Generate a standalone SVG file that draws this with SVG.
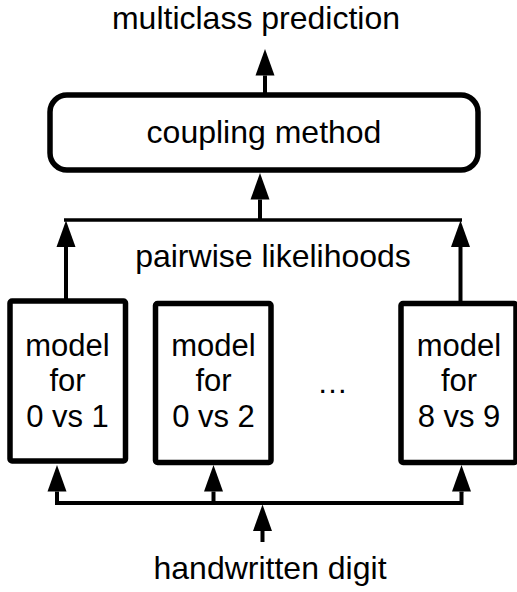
<svg xmlns="http://www.w3.org/2000/svg" width="517" height="592" viewBox="0 0 517 592">
  <style>
    text { font-family: "Liberation Sans", Arial, Helvetica, sans-serif; fill: #000; }
    .lbl { font-size: 32px; text-anchor: middle; }
    .mdl { font-size: 31px; text-anchor: middle; }
    .box { fill: #fff; stroke: #000; stroke-width: 5.5; }
    .wire { fill: none; stroke: #000; stroke-width: 4; }
    .bus { fill: none; stroke: #000; stroke-width: 3.5; }
  </style>
  <defs>
    <marker id="head" markerUnits="userSpaceOnUse" markerWidth="27" markerHeight="20" refX="0" refY="9.5" orient="auto" overflow="visible">
      <path d="M0,0 L26.5,9.5 L0,19 Z" fill="#000"/>
    </marker>
  </defs>

  <rect width="517" height="592" fill="#fff"/>

  <!-- labels -->
  <text class="lbl" x="256" y="29">multiclass prediction</text>
  <text class="lbl" x="273" y="267">pairwise likelihoods</text>
  <text class="lbl" x="270" y="579">handwritten digit</text>

  <!-- coupling stage -->
  <g id="coupling">
    <rect class="box" x="50" y="95" width="428" height="75" rx="17" ry="17"/>
    <text class="lbl" x="264" y="143">coupling method</text>
  </g>

  <!-- binary classifiers -->
  <g id="model01">
    <rect class="box" x="10" y="301" width="115.5" height="160" rx="2"/>
    <text class="mdl" x="67.5" y="356">model</text>
    <text class="mdl" x="67.5" y="391">for</text>
    <text class="mdl" x="67.5" y="427">0 vs 1</text>
  </g>
  <g id="model02">
    <rect class="box" x="155.5" y="303.5" width="115.5" height="159" rx="2"/>
    <text class="mdl" x="213.5" y="356">model</text>
    <text class="mdl" x="213.5" y="391">for</text>
    <text class="mdl" x="213.5" y="427">0 vs 2</text>
  </g>
  <g id="ellipsis">
    <text class="mdl" x="332.5" y="393">…</text>
  </g>
  <g id="model89">
    <rect class="box" x="401" y="303.5" width="115" height="159" rx="2"/>
    <text class="mdl" x="459" y="356">model</text>
    <text class="mdl" x="459" y="391">for</text>
    <text class="mdl" x="459" y="427">8 vs 9</text>
  </g>

  <!-- connectors -->
  <g id="connectors">
    <!-- coupling output -->
    <line class="wire" x1="265" y1="93" x2="265" y2="75.5" marker-end="url(#head)"/>
    <!-- likelihood bus into coupling -->
    <line class="bus" x1="64" y1="220" x2="462" y2="220"/>
    <line class="wire" x1="260" y1="221" x2="260" y2="199.5" marker-end="url(#head)"/>
    <line class="wire" x1="66" y1="299" x2="66" y2="247" marker-end="url(#head)"/>
    <line class="wire" x1="460.5" y1="301" x2="460.5" y2="247" marker-end="url(#head)"/>
    <!-- input bus into models -->
    <polyline class="wire" points="57,492 57,503 461.5,503 461.5,492"/>
    <line class="wire" x1="57" y1="492.5" x2="57" y2="491.5" marker-end="url(#head)"/>
    <line class="wire" x1="213.5" y1="503" x2="213.5" y2="491.5" marker-end="url(#head)"/>
    <line class="wire" x1="461.5" y1="492.5" x2="461.5" y2="491.5" marker-end="url(#head)"/>
    <line class="wire" x1="262.5" y1="542" x2="262.5" y2="531" marker-end="url(#head)"/>
  </g>
</svg>
